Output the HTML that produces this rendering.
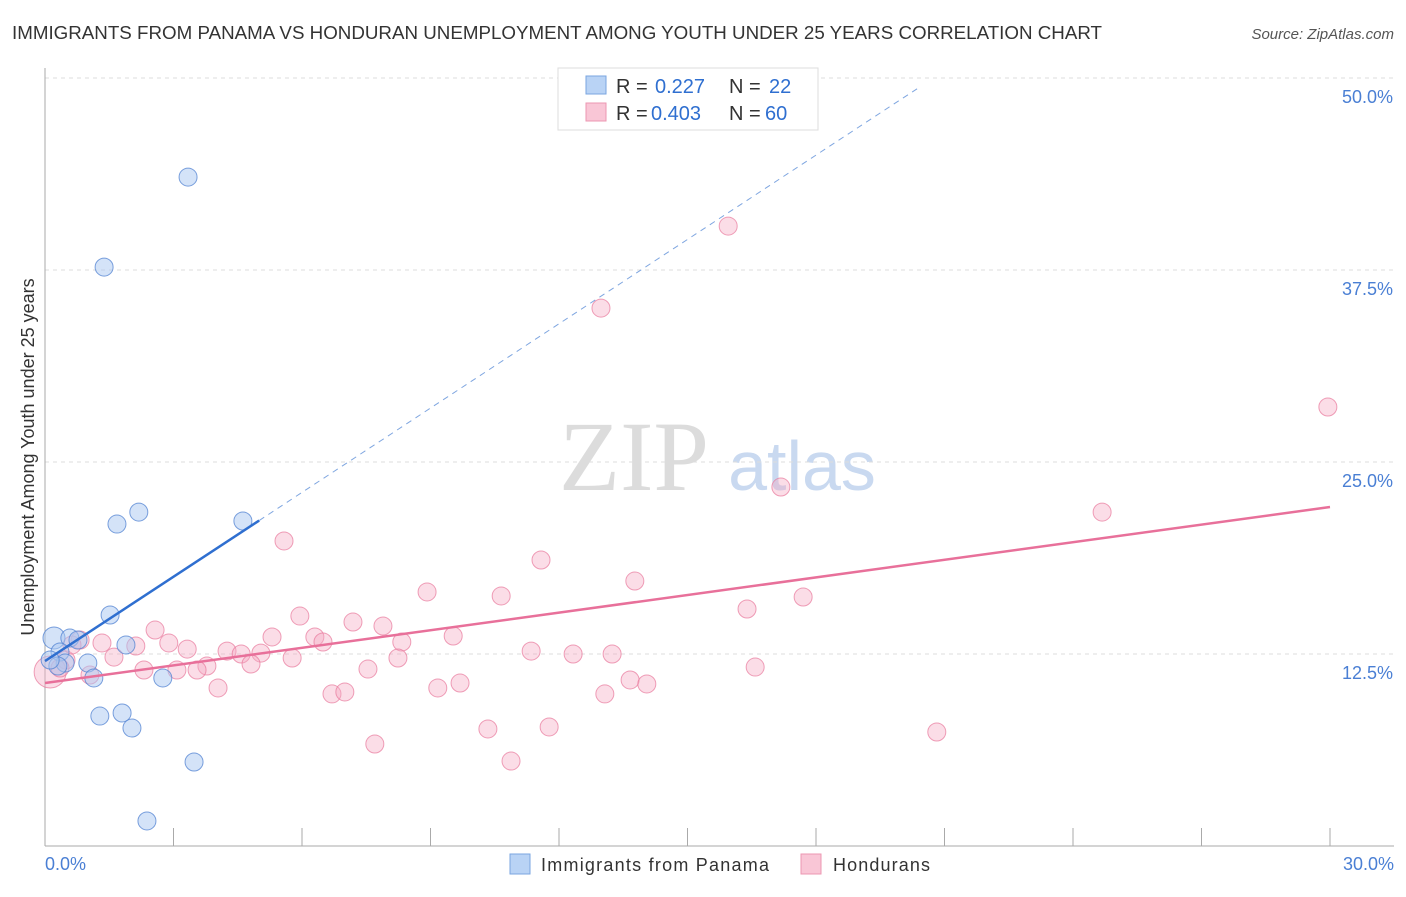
<!DOCTYPE html>
<html><head><meta charset="utf-8"><style>
body{margin:0;background:#fff;font-family:"Liberation Sans",sans-serif;}
</style></head><body>
<svg id="chart" width="1406" height="892" xmlns="http://www.w3.org/2000/svg" style="font-family:'Liberation Sans',sans-serif">
<text x="12" y="39" font-size="18" fill="#333" textLength="1090" lengthAdjust="spacingAndGlyphs">IMMIGRANTS FROM PANAMA VS HONDURAN UNEMPLOYMENT AMONG YOUTH UNDER 25 YEARS CORRELATION CHART</text>
<text x="1394" y="39" font-size="15" fill="#555" font-style="italic" text-anchor="end">Source: ZipAtlas.com</text>
<text x="634" y="490" font-size="100" fill="#dcdcdc" style="font-family:'Liberation Serif',serif" text-anchor="middle">ZIP</text>
<text x="802" y="490" font-size="70" fill="#c9d9f0" text-anchor="middle">atlas</text>
<g id="grid"></g><g id="axes"></g><g id="marks"></g>
<text transform="translate(34,457) rotate(-90)" font-size="18" fill="#333" text-anchor="middle">Unemployment Among Youth under 25 years</text>
<text x="45" y="870" font-size="18" fill="#4a7fd4">0.0%</text>
<text x="1394" y="870" font-size="18" fill="#4a7fd4" text-anchor="end">30.0%</text>
<g>
<rect x="558" y="68" width="260" height="62" fill="#fff" stroke="#ddd"/>
<rect x="586" y="76" width="20" height="18" fill="#b9d3f5" stroke="#7aa6e0"/>
<rect x="586" y="103" width="20" height="18" fill="#f9c6d6" stroke="#ec97b2"/>
<text x="616" y="93" font-size="20" fill="#333">R = <tspan x="655" fill="#2f6fd0">0.227</tspan><tspan x="729">N = </tspan><tspan x="769" fill="#2f6fd0">22</tspan></text>
<text x="616" y="120" font-size="20" fill="#333">R = <tspan x="651" fill="#2f6fd0">0.403</tspan><tspan x="729">N = </tspan><tspan x="765" fill="#2f6fd0">60</tspan></text>
</g>
<g>
<rect x="510" y="854" width="20" height="20" fill="#b9d3f5" stroke="#7aa6e0"/>
<text x="541" y="871" font-size="18" fill="#333" textLength="228">Immigrants from Panama</text>
<rect x="801" y="854" width="20" height="20" fill="#f9c6d6" stroke="#ec97b2"/>
<text x="833" y="871" font-size="18" fill="#333" textLength="97">Hondurans</text>
</g>
</svg>
<script>
const yTicks=[12.5,25,37.5,50];
const yTickLabels=["12.5%","25.0%","37.5%","50.0%"];
const xTicks=[0,3,6,9,12,15,18,21,24,27,30];
const blueX=[3.34,1.38,2.19,1.68,4.62,1.52,0.21,0.58,0.77,1.89,0.35,1.00,0.47,1.14,2.75,1.28,1.80,2.03,3.48,2.38,0.30,0.12];
const blueY=[43.55,37.69,21.74,20.96,21.16,15.04,13.54,13.54,13.41,13.09,12.63,11.91,11.91,10.94,10.94,8.46,8.66,7.68,5.47,1.63,11.72,12.11];
const pinkX=[15.95,12.98,29.95,17.18,24.68,5.58,11.58,13.77,8.92,10.65,17.70,16.39,5.95,7.19,7.89,2.57,5.30,6.30,9.53,8.33,6.49,3.32,2.12,2.89,1.33,4.25,4.58,5.04,11.35,12.33,13.24,1.61,5.77,8.24,3.78,2.31,3.08,3.55,4.81,7.54,16.58,0.49,0.82,0.63,4.04,6.70,7.00,9.17,9.69,13.07,13.66,14.05,7.70,10.34,11.77,10.88,20.82,0.12,0.35,1.05];
const pinkY=[40.36,35.02,28.58,23.37,21.74,19.86,18.62,17.25,16.54,16.28,16.21,15.43,14.97,14.58,14.32,14.06,13.61,13.61,13.67,13.28,13.28,12.82,13.02,13.22,13.22,12.69,12.50,12.56,12.69,12.50,12.50,12.30,12.24,12.24,11.72,11.46,11.46,11.46,11.85,11.52,11.65,12.11,13.41,13.09,10.29,9.90,10.03,10.29,10.61,9.90,10.81,10.55,6.64,7.62,7.75,5.53,7.42,11.33,11.59,11.13];
const blueTrend=[12.04,1.83];
const pinkTrend=[10.61,0.382];
const X=v=>45+v/30*1285, Y=v=>846-v/12.5*192;
const NS="http://www.w3.org/2000/svg";
function mk(t,a,p){const e=document.createElementNS(NS,t);for(const k in a)e.setAttribute(k,a[k]);p.appendChild(e);return e;}
const grid=document.getElementById('grid'),axes=document.getElementById('axes'),marks=document.getElementById('marks');
yTicks.forEach((t,i)=>{
 const l=mk('line',{x1:45,x2:1394,y1:Y(t),y2:Y(t),stroke:'#ddd','stroke-dasharray':'4,4'},grid);
 
 
 const tx=mk('text',{x:1393,y:Y(t)+25,'font-size':18,fill:'#4a7fd4','text-anchor':'end'},grid);
 tx.textContent=yTickLabels[i];
 
 
});
const ax=mk('line',{x1:45,x2:1394,y1:846,y2:846,stroke:'#aaa'},axes);


const ay=mk('line',{x1:45,x2:45,y1:68,y2:846,stroke:'#aaa'},axes);


xTicks.forEach(t=>{
 const l=mk('line',{x1:X(t),x2:X(t),y1:828,y2:846,stroke:'#aaa'},axes);
 
 
});
pinkX.forEach((x,i)=>{
 const c=mk('circle',{cx:X(x),cy:Y(pinkY[i]),r:(i==57?16:9),fill:'rgba(246,170,195,0.4)',stroke:'rgba(232,120,155,0.7)','stroke-width':1},marks);
 
 
});
blueX.forEach((x,i)=>{
 const c=mk('circle',{cx:X(x),cy:Y(blueY[i]),r:(i==6?11:9),fill:'rgba(170,200,242,0.5)',stroke:'rgba(80,130,210,0.75)','stroke-width':1},marks);
 
 
});
const pl=mk('line',{x1:X(0),y1:Y(pinkTrend[0]),x2:X(30),y2:Y(pinkTrend[0]+30*pinkTrend[1]),stroke:'#e8709a','stroke-width':2.5},marks);


const bl=mk('line',{x1:X(0),y1:Y(blueTrend[0]),x2:X(5),y2:Y(blueTrend[0]+5*blueTrend[1]),stroke:'#2f6fd0','stroke-width':2.5},marks);


const xe=20.36;
const bd=mk('line',{x1:X(5),y1:Y(blueTrend[0]+5*blueTrend[1]),x2:X(xe),y2:Y(blueTrend[0]+xe*blueTrend[1]),stroke:'#7fa6e0','stroke-width':1,'stroke-dasharray':'6,5'},marks);


</script>
</body></html>
